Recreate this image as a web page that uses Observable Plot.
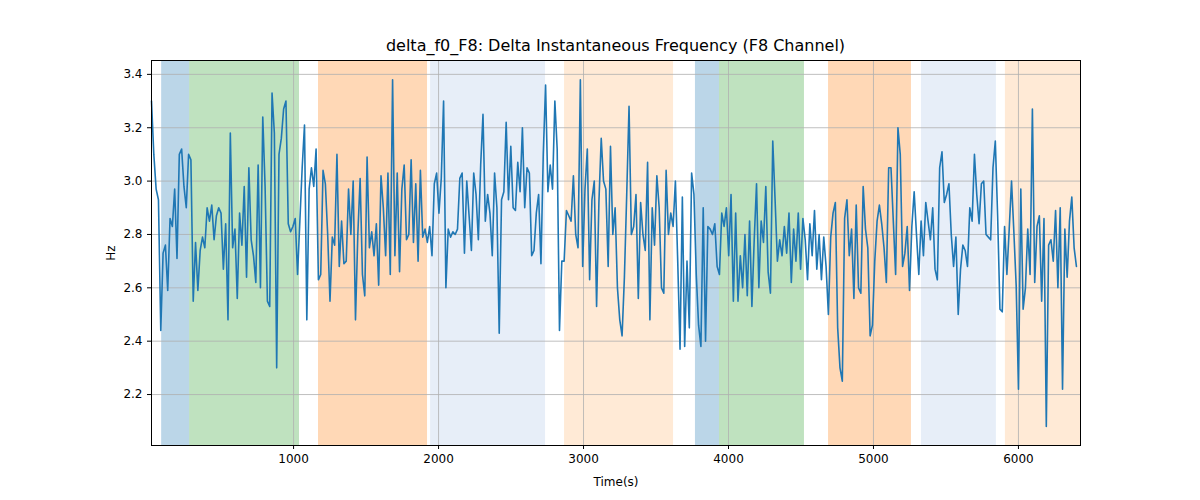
<!DOCTYPE html>
<html><head><meta charset="utf-8">
<script src="https://cdn.jsdelivr.net/npm/d3@7"></script>
<script src="https://cdn.jsdelivr.net/npm/@observablehq/plot@0.6"></script>
<style>body{margin:0;background:#fff;font-family:"DejaVu Sans",sans-serif}#wrap{position:relative;width:1200px;height:500px}
#title{position:absolute;top:36px;left:151px;width:929px;text-align:center;font-size:16px;color:#000}</style>
</head><body><div id="wrap"><div id="title">delta_f0_F8: Delta Instantaneous Frequency (F8 Channel)</div></div>
<script>
const values = [3.3,3.1,2.97,2.93,2.44,2.73,2.76,2.59,2.86,2.83,2.97,2.71,3.1,3.12,2.98,2.9,3.1,3.08,
2.55,2.77,2.59,2.74,2.79,2.75,2.9,2.85,2.91,2.78,2.87,2.9,2.88,2.67,2.84,2.48,3.18,2.75,2.82,2.56,2.88,2.76,2.98,2.64,3.05,2.78,2.72,2.62,3.06,2.6,3.24,2.98,2.55,2.53,3.33,3.18,2.3,3.1,3.16,3.27,3.3,2.84,2.81,2.83,2.86,
2.65,2.85,3.05,3.21,2.48,2.97,3.05,
2.98,3.12,2.63,2.65,3.04,2.99,2.8,2.55,2.79,2.76,3.1,2.68,2.85,2.69,2.7,2.97,2.8,3.0,2.48,2.8,3.01,2.65,2.57,3.09,2.75,2.81,2.72,2.84,2.61,3.02,2.9,2.72,3.03,2.65,3.38,2.72,3.03,2.66,2.97,3.06,2.78,2.8,3.08,2.77,2.99,2.7,3.04,2.79,2.82,
2.77,2.83,2.72,2.99,3.03,2.88,3.01,3.3,2.6,2.82,2.79,2.81,2.8,2.82,3.01,3.03,2.73,3.0,2.87,2.74,3.03,2.95,2.78,3.06,3.25,2.85,2.95,2.88,2.72,3.03,2.9,2.43,2.93,2.96,3.22,2.93,3.13,2.9,2.89,3.07,2.96,3.2,2.9,3.05,3.03,2.72,2.74,2.88,2.95,2.69,3.1,3.36,
2.96,3.06,2.97,3.3,3.12,2.44,2.7,2.7,2.89,2.87,2.85,3.02,2.8,2.75,3.38,2.68,2.97,3.12,2.63,2.93,3.0,2.53,2.92,3.16,3.0,2.97,2.68,3.13,2.8,2.9,2.6,2.48,2.42,2.64,2.95,3.28,2.8,2.83,2.95,2.56,2.92,2.8,2.74,3.07,2.48,2.9,2.76,3.02,2.9,2.6,2.58,3.04,2.8,2.88,
2.83,3.0,2.7,2.37,2.94,2.38,2.7,2.45,
3.03,2.95,2.65,2.46,2.38,2.9,2.4,
2.83,2.82,2.8,2.84,2.68,2.65,2.88,2.83,2.9,2.72,2.95,2.55,2.88,2.55,2.72,2.6,2.8,2.57,2.85,2.53,2.78,2.99,2.6,2.85,2.77,2.98,2.66,2.58,3.15,2.93,2.7,2.78,2.72,2.83,2.73,2.88,2.62,2.82,
2.7,2.88,2.67,2.86,2.78,2.63,2.84,2.72,2.89,2.67,2.8,
2.63,2.79,2.68,2.5,2.79,2.88,2.92,2.45,2.3,2.25,2.86,2.93,2.72,2.82,2.56,2.91,2.6,2.58,2.98,2.82,2.75,2.42,2.46,2.7,2.85,2.91,2.84,2.75,2.62,3.05,3.05,2.85,2.65,3.2,3.1,2.68,2.73,
2.83,2.59,2.83,2.96,2.8,
2.65,2.85,2.72,2.92,2.85,2.78,2.9,2.67,2.63,3.05,3.11,2.92,2.95,2.99,2.8,2.68,2.79,2.5,2.67,2.76,2.74,2.68,2.9,2.85,3.1,2.95,2.84,2.99,3.0,2.8,2.79,2.78,3.05,3.15,
2.87,2.52,2.51,2.83,
2.65,2.82,3.0,2.81,2.61,2.22,2.97,2.52,2.6,2.82,2.65,3.27,2.62,2.83,2.87,2.55,2.86,2.08,2.76,2.78,2.7,2.89,2.6,2.9,2.22,2.82,2.64,2.85,2.94,2.75,2.68];
const tStart = 20, tEnd = 6400;
const spanStart = [90,283,1172,1945,2869,3772,3938,4690,5331,5910];
const spanEnd   = [283,1041,1924,2738,3621,3938,4524,5262,5848,6428];
const spanColor = ["#1f77b4","#2ca02c","#ff7f0e","#aec7e8","#ffbb78","#1f77b4","#2ca02c","#ff7f0e","#aec7e8","#ffbb78"];
const xTicks = [1000,2000,3000,4000,5000,6000];
const yTicks = [2.2,2.4,2.6,2.8,3.0,3.2,3.4];

const step = (tEnd - tStart)/(values.length-1);
const series = values.map((v,i)=>({t:tStart+i*step, v}));
const spans = spanStart.map((s,i)=>({x1:s,x2:spanEnd[i],c:spanColor[i]}));

const chart = Plot.plot({
  width:1200, height:500, marginLeft:151, marginRight:120, marginTop:60, marginBottom:55,
  style:{fontFamily:"DejaVu Sans, sans-serif", fontSize:"12px", color:"#000"},
  x:{domain:[20,6428], ticks:xTicks, tickFormat:d=>String(d), label:"Time(s)", labelAnchor:"center", labelArrow:"none", labelOffset:40, tickSize:4},
  y:{domain:[2.009,3.452], ticks:yTicks, tickFormat:d=>d.toFixed(1), label:"Hz", labelAnchor:"center", labelArrow:"none", labelOffset:45, tickSize:4},
  marks:[
    Plot.rectX(spans,{x1:"x1",x2:"x2",fill:"c",fillOpacity:0.3}),
    Plot.gridX(xTicks,{stroke:"#b0b0b0",strokeOpacity:1,strokeWidth:0.8}),
    Plot.gridY(yTicks,{stroke:"#b0b0b0",strokeOpacity:1,strokeWidth:0.8}),
    Plot.lineY(series,{x:"t",y:"v",stroke:"#1f77b4",strokeWidth:1.6}),
    Plot.frame({stroke:"#000"})
  ]
});
document.getElementById("wrap").prepend(chart);
</script></body></html>
